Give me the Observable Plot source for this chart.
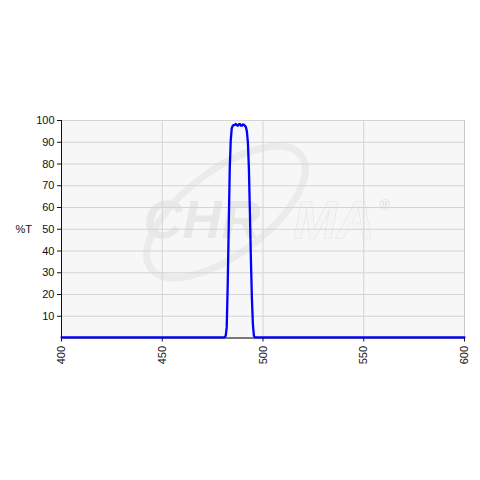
<!DOCTYPE html>
<html>
<head>
<meta charset="utf-8">
<script src="https://cdn.jsdelivr.net/npm/d3@7"></script>
<script src="https://cdn.jsdelivr.net/npm/@observablehq/plot@0.6"></script>
<style>
  html, body { margin: 0; padding: 0; background: #fff; }
  #chart { width: 480px; height: 480px; }
</style>
</head>
<body>
<div id="chart"></div>
<script>
// Wavelength (nm)
const wavelength = [400, 410, 420, 430, 440, 450, 460, 470, 475, 478, 480, 480.5, 481, 481.5, 482, 482.5, 483, 483.5, 484, 484.5, 485, 485.5, 486, 486.5, 487, 487.5, 488, 488.5, 489, 489.5, 490, 490.5, 491, 491.5, 492, 492.5, 493, 493.5, 494, 494.5, 495, 495.5, 496, 497, 500, 510, 520, 530, 540, 550, 560, 570, 580, 590, 600];
// Transmission (%T)
const transmission = [0.3, 0.3, 0.3, 0.3, 0.3, 0.3, 0.3, 0.3, 0.3, 0.3, 0.3, 0.3, 0.4, 1, 5, 25, 52, 78, 91, 96.5, 97.6, 97.9, 98.0, 98.4, 97.9, 97.6, 98.2, 98.4, 97.7, 97.6, 98.2, 98.0, 97.6, 97.0, 95, 90, 78, 58, 36, 18, 6, 1, 0.3, 0.3, 0.3, 0.3, 0.3, 0.3, 0.3, 0.3, 0.3, 0.3, 0.3, 0.3, 0.3];
const xTicks = [400, 450, 500, 550, 600];
const xGrid = [450, 500, 550];
const yTicks = [10, 20, 30, 40, 50, 60, 70, 80, 90, 100];
const yLabel = "%T";

const data = wavelength.map((w, i) => ({w, t: transmission[i]}));

const chart = Plot.plot({
  width: 480,
  height: 480,
  marginLeft: 61,
  marginRight: 16,
  marginTop: 120,
  marginBottom: 142.5,
  style: {fontFamily: "Liberation Sans, Arial, sans-serif", fontSize: "11px", color: "#111", background: "#fff"},
  x: {domain: [400, 600]},
  y: {domain: [0, 100]},
  marks: [
    Plot.frame({fill: "#f7f7f7", stroke: "#c8c8c8"}),
    Plot.text(["CHR"], {frameAnchor: "top-left", dx: 82, dy: 117, text: d => d, fontSize: 54, fontWeight: "bold", fontStyle: "italic", fill: "#e8e8e8", textAnchor: "start", lineAnchor: "bottom"}),
    Plot.text(["MA"], {frameAnchor: "top-left", dx: 232, dy: 117, text: d => d, fontSize: 52, fontWeight: "bold", fontStyle: "italic", fill: "#f5f5f5", stroke: "#e0e0e0", strokeWidth: 1, textAnchor: "start", lineAnchor: "bottom"}),
    Plot.text(["®"], {frameAnchor: "top-left", dx: 318, dy: 80, text: d => d, fontSize: 14, fill: "#dddddd", textAnchor: "start"}),
    Plot.gridY(yTicks, {stroke: "#d4d4d4", strokeOpacity: 1}),
    Plot.gridX(xGrid, {stroke: "#d4d4d4", strokeOpacity: 1}),
    Plot.axisY(yTicks, {tickSize: 4, tickPadding: 3, label: null, stroke: "#111", fill: "#111"}),
    Plot.axisX(xTicks, {tickSize: 4, tickPadding: 4, tickRotate: -90, label: null, stroke: "#111", fill: "#111"}),
    Plot.ruleX([400], {stroke: "#111"}),
    Plot.ruleY([0], {stroke: "#111"}),
    Plot.line(data, {x: "w", y: "t", stroke: "#0000ff", strokeWidth: 2.3, strokeLinejoin: "round"}),
    Plot.text([yLabel], {frameAnchor: "left", dx: -46, dy: 0, text: d => d, fill: "#111", fontSize: 11, textAnchor: "start"})
  ]
});

// Watermark swoosh (decorative, drawn behind grid)
const svg = d3.select(chart);
const frameRect = svg.select("rect");
const swoosh = document.createElementNS("http://www.w3.org/2000/svg", "ellipse");
swoosh.setAttribute("cx", 226);
swoosh.setAttribute("cy", 212);
swoosh.setAttribute("rx", 94);
swoosh.setAttribute("ry", 42);
swoosh.setAttribute("transform", "rotate(-37 226 212)");
swoosh.setAttribute("fill", "none");
swoosh.setAttribute("stroke", "#ebebeb");
swoosh.setAttribute("stroke-width", 7);
frameRect.node().parentNode.insertBefore(swoosh, frameRect.node().nextSibling);

document.getElementById("chart").appendChild(chart);
</script>
</body>
</html>
